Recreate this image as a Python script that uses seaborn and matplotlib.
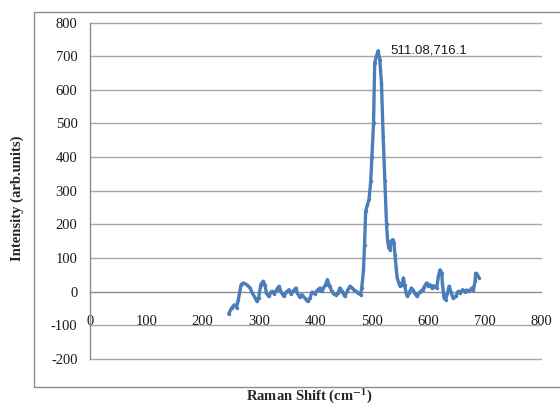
import matplotlib
matplotlib.use("Agg")
import matplotlib.pyplot as plt
from matplotlib.patches import Rectangle
import seaborn as sns
import pandas as pd

raman_shift = [246, 251, 256, 260, 263, 268, 272, 278, 284, 288, 293, 296, 299, 303, 307, 310,
               313, 317, 322, 327, 331, 335, 340, 344, 348, 353, 356, 360, 365, 368, 372, 376,
               381, 386, 390, 394, 399, 404, 408, 411, 414, 418, 421, 425, 429, 432, 436, 440,
               443, 447, 452, 456, 461, 465, 469, 473, 476, 480, 482, 485, 487, 489, 492, 495,
               498, 500, 503, 505, 508, 511.08, 514, 517, 520, 523, 526, 528, 530, 532, 534, 537,
               539, 541, 543, 545, 548, 550, 553, 556, 558, 561, 563, 566, 570, 573, 576, 580,
               585, 590, 593, 597, 600, 603, 606, 609, 612, 615, 618, 621, 624, 625, 628, 631,
               634, 637, 641, 644, 649, 653, 656, 661, 665, 668, 673, 677, 680, 683, 684, 687, 690]
intensity = [-66, -49, -39, -47, -24, 21, 26, 21, 11, -4, -19, -29, -19, 21, 31, 21,
             -4, -14, 1, -6, 6, 16, -4, -14, -1, 6, -6, 1, 11, -4, -17, -9,
             -19, -29, -19, -1, -6, 6, 11, 1, 11, 21, 36, 16, 1, -6, -9, -4,
             11, 1, -14, 1, 16, 11, 4, 0, -4, -9, 11, 61, 140, 240, 258, 275,
             330, 400, 502, 680, 700, 716.1, 690, 621, 462, 330, 200, 150, 130, 125, 150, 155,
             145, 110, 70, 40, 25, 16, 21, 41, 21, -5, -14, -4, 11, 5, -5, -14,
             -1, 6, 15, 26, 18, 21, 12, 18, 15, 11, 46, 65, 55, 26, -19, -24,
             -4, 16, -4, -19, -14, 1, -4, 6, 0, 5, 1, 11, 4, 31, 55, 51, 41]

x_ticks = [0, 100, 200, 300, 400, 500, 600, 700, 800]
y_ticks = [-200, -100, 0, 100, 200, 300, 400, 500, 600, 700, 800]
peak_label = "511.08,716.1"

df = pd.DataFrame({"shift": raman_shift, "intensity": intensity})

sns.set_style("white")
plt.rcParams["font.family"] = ["Liberation Serif", "DejaVu Serif"]
plt.rcParams["mathtext.fontset"] = "stix"

fig = plt.figure(figsize=(5.6, 4.07), dpi=100)
ax = fig.add_axes([90 / 560, 1 - 359 / 407, (541 - 90) / 560, (359 - 22.5) / 407])

fig.patches.append(Rectangle((34 / 560, 1 - 387 / 407), 1.0, (387 - 12) / 407,
                             transform=fig.transFigure, fill=False,
                             edgecolor="#8c8c8c", linewidth=1.0, zorder=0))

for yv in y_ticks:
    if yv != 0:
        ax.axhline(yv, color="#a6a6a6", linewidth=1.0, zorder=0, clip_on=False)

sns.lineplot(data=df, x="shift", y="intensity", ax=ax, sort=False,
             color="#4a7ebb", linewidth=2.4, marker="o", markersize=2.5,
             markeredgewidth=0, zorder=3)

ax.set_xlim(0, 800)
ax.set_ylim(-200, 800)
ax.set_xticks(x_ticks)
ax.set_yticks(y_ticks)
ax.set_xticklabels([str(v) for v in x_ticks])
ax.set_yticklabels([str(v) for v in y_ticks])

for s in ["top", "right"]:
    ax.spines[s].set_visible(False)
ax.spines["bottom"].set_position(("data", 0))
ax.spines["left"].set_position(("data", 0))
for s in ["bottom", "left"]:
    ax.spines[s].set_color("#8c8c8c")
    ax.spines[s].set_linewidth(1.0)

ax.tick_params(axis="x", direction="out", length=4, width=1, color="#8c8c8c",
               pad=13, labelsize=10.5, labelcolor="#1a1a1a")
ax.tick_params(axis="y", direction="out", length=4, width=1, color="#8c8c8c",
               pad=5, labelsize=10.5, labelcolor="#1a1a1a")
ax.set_xlabel("")
ax.set_ylabel("")

ax.text(532, 716, peak_label, fontsize=9.5, family=["Liberation Sans", "DejaVu Sans"],
        ha="left", va="center", color="#1a1a1a")

fig.text(309 / 560, 1 - 396 / 407, "Raman Shift (cm$^{\\mathbf{-1}}$)", ha="center", va="center",
         fontsize=10.5, fontweight="bold")
fig.text(17 / 560, 1 - 198 / 407, "Intensity (arb.units)", ha="center", va="center",
         rotation=90, fontsize=10.5, fontweight="bold")

fig.savefig("out.png", dpi=100)
